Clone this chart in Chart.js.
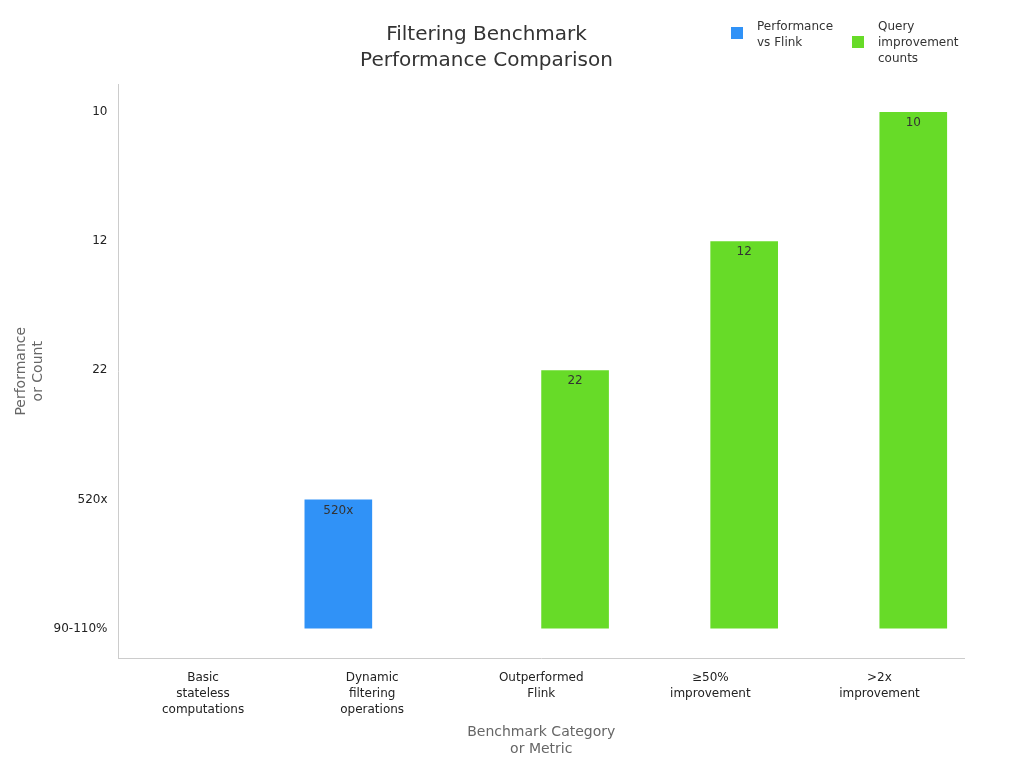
<!DOCTYPE html>
<html><head><meta charset="utf-8">
<script src="https://cdn.jsdelivr.net/npm/chart.js@4/dist/chart.umd.min.js"></script>
<style>
body{margin:0;background:#fff;font-family:"DejaVu Sans",sans-serif}
#wrap{position:relative;width:1024px;height:768px}
.leg{position:absolute;font-size:12px;color:#333;line-height:16px}
.sw{position:absolute;width:12px;height:12px}
</style></head><body>
<div id="wrap"><canvas id="c" width="1024" height="768"></canvas>
<div class="sw" style="left:731px;top:27px;background:#3092f7"></div>
<div class="leg" style="left:757px;top:18px">Performance<br>vs Flink</div>
<div class="sw" style="left:852px;top:36px;background:#67db28"></div>
<div class="leg" style="left:878px;top:18px">Query<br>improvement<br>counts</div>
</div>
<script>
const categories=[["Basic","stateless","computations"],["Dynamic","filtering","operations"],["Outperformed","Flink"],["≥50%","improvement"],[">2x","improvement"]];
const yTickLabels=["90-110%","520x","22","12","10"];
const perfVsFlink=[0,1,null,null,null];
const queryCounts=[null,null,2,3,4];
const labelPlugin={id:'lbl',afterDatasetsDraw(ch){const ctx=ch.ctx;ctx.save();ctx.font='12px "DejaVu Sans"';ctx.fillStyle='#333';ctx.textAlign='center';ctx.textBaseline='top';
ch.data.datasets.forEach((ds,i)=>{ch.getDatasetMeta(i).data.forEach((el,j)=>{const v=ds.data[j];if(v==null||v===0)return;ctx.fillText(yTickLabels[v],el.x,el.y+5);});});ctx.restore();}};
new Chart(document.getElementById('c'),{type:'bar',
data:{labels:categories,datasets:[
{label:'Performance vs Flink',data:perfVsFlink,backgroundColor:'#3092f7',barPercentage:1,categoryPercentage:0.8},
{label:'Query improvement counts',data:queryCounts,backgroundColor:'#67db28',barPercentage:1,categoryPercentage:0.8}]},
options:{responsive:false,animation:false,layout:{padding:{top:0,right:60,left:9,bottom:6}},
plugins:{legend:{display:false},tooltip:{enabled:false},
title:{display:true,text:['Filtering Benchmark','Performance Comparison'],color:'#333',font:{size:20,weight:'normal',family:'DejaVu Sans',lineHeight:1.3},padding:{top:22,bottom:10}}},
scales:{x:{grid:{display:false},border:{color:'#ccc'},ticks:{color:'#222',font:{size:12,family:'DejaVu Sans',lineHeight:1.33},maxRotation:0},
title:{display:true,text:['Benchmark Category','or Metric'],color:'#666',font:{size:14,family:'DejaVu Sans'}}},
y:{min:-0.232,max:4.217,grid:{display:false},border:{color:'#ccc'},afterBuildTicks(s){s.ticks=[0,1,2,3,4].map(v=>({value:v}));},
ticks:{color:'#222',font:{size:12,family:'DejaVu Sans'},callback:v=>yTickLabels[v]},
title:{display:true,text:['Performance','or Count'],color:'#666',font:{size:14,family:'DejaVu Sans'}}}}},
plugins:[labelPlugin,{id:'fix',afterFit(){}}]});
</script></body></html>
